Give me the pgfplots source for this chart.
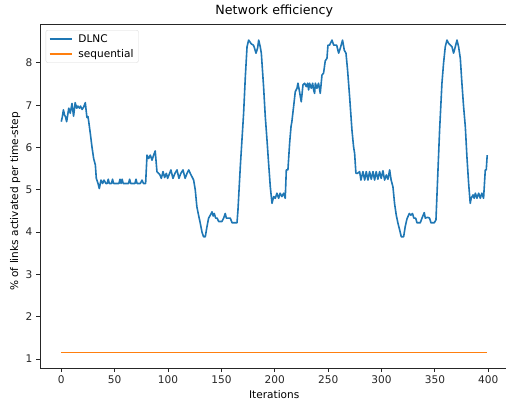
\documentclass[border=0pt]{standalone}
\usepackage{pgfplots}
\pgfplotsset{compat=1.18}
\usepackage{fontspec}
\setmainfont{DejaVu Sans}
\definecolor{mplblue}{HTML}{1F77B4}
\definecolor{mplorange}{HTML}{FF7F0E}
\begin{document}
\begin{tikzpicture}
\useasboundingbox (0,0) rectangle (506bp,403bp);
\begin{axis}[
  at={(40bp,34.7bp)}, anchor=south west,
  scale only axis, width=468.5bp, height=343.8bp,
  xmin=-19.95, xmax=418.95, ymin=0.78, ymax=8.908,
  xtick={0,50,...,400}, ytick={1,2,...,8},
  tick align=outside, tick pos=left,
  major tick length=3.7bp,
  axis line style={line width=0.85bp, black!85},
  every tick/.style={line width=0.85bp, black!85},
  /pgf/number format/assume math mode=true,
  ticklabel style={font=\fontsize{10.6}{12}\selectfont, text=black!85},
  xticklabel style={inner sep=0pt, yshift=-3.7bp},
  yticklabel style={inner sep=0pt, xshift=-3.7bp},
  title={Network efficiency},
  title style={font=\fontsize{12.7}{14}\selectfont, anchor=base, at={(axis description cs:0.5,1)}, yshift=3.8bp, inner sep=0pt},
  xlabel={Iterations},
  xlabel style={font=\fontsize{10.6}{12}\selectfont, anchor=base, at={(axis description cs:0.5,0)}, yshift=-30.3bp, inner sep=0pt},
  ylabel={\% of links activated per time-step},
  ylabel style={font=\fontsize{10.6}{12}\selectfont, anchor=base, at={(axis description cs:0,0.485)}, yshift=22bp, inner sep=0pt},
  legend style={at={(axis description cs:0.012,0.984)}, anchor=north west,
    draw=black!15, rounded corners=2bp, fill=white, fill opacity=0.8, text opacity=1,
    font=\fontsize{10.6}{12}\selectfont, inner xsep=3bp, inner ysep=2bp,
    row sep=1.5bp},
  legend cell align=left,
  legend image code/.code={\draw[#1] (0bp,0bp) -- (22bp,0bp); \path (26bp,0bp);},
]
\addplot[mplblue, line width=1.6bp, line join=round] table {
x y
0 6.61
1 6.73
2 6.89
3 6.77
4 6.72
5 6.61
7 6.93
8.4 6.81
10 7.04
11.5 6.74
13 7.06
14.5 6.93
15.5 6.98
17 6.93
18 6.98
19.5 6.90
21 6.96
22.5 7.06
24 6.71
25 6.73
25.6 6.63
27.2 6.33
28.7 6.02
30.3 5.74
31.9 5.59
32.8 5.27
34.4 5.15
35.6 5.03
37.2 5.23
38.7 5.15
40 5.23
41.7 5.15
43 5.15
44 5.25
45 5.15
47 5.15
48 5.25
49 5.15
54 5.15
55 5.25
56 5.15
57 5.25
58 5.15
63 5.15
64 5.25
65 5.15
69 5.15
70 5.25
71 5.15
74 5.15
75.6 5.23
77 5.15
79 5.15
80.3 5.82
81.8 5.74
83.4 5.82
85 5.70
86.5 5.82
88 5.92
89.6 5.43
91.2 5.39
92.5 5.35
93.7 5.27
95.3 5.43
96.8 5.29
98.4 5.39
99.6 5.27
102.7 5.47
104.6 5.27
106.5 5.39
108.4 5.47
110.2 5.27
112 5.39
114 5.47
116 5.27
117.8 5.39
119.4 5.47
120.8 5.39
122.4 5.31
124 5.23
125.5 5.00
127 4.60
128.6 4.40
130.2 4.21
131.8 4.00
133.3 3.89
134.9 3.89
136.5 4.13
138 4.33
139.6 4.40
141.2 4.48
142.3 4.38
143.3 4.44
144.6 4.33
146 4.33
147.4 4.25
150.5 4.25
152.1 4.33
153.6 4.44
154.6 4.33
158.3 4.33
160 4.22
164.6 4.22
165.5 4.52
167.7 5.55
170.8 6.81
172.4 7.67
174 8.38
175.5 8.54
178 8.45
180 8.42
181 8.35
182.4 8.23
183.9 8.35
184.9 8.54
186.4 8.38
187.4 8.23
189.5 7.44
191.1 6.73
192.7 6.18
194.2 5.63
195.8 5.07
197.4 4.68
199 4.84
200.5 4.80
202 4.92
203.6 4.80
205 4.92
206.7 4.84
208.3 4.92
209.8 4.80
210.8 5.47
212.3 5.47
213.9 6.10
215.2 6.49
216 6.61
217.6 6.96
219.2 7.32
220.8 7.40
221.7 7.52
222.9 7.36
224.8 7.08
226.4 7.48
228 7.52
229.5 7.44
230.8 7.52
231.7 7.36
232.6 7.52
234.2 7.40
235.5 7.52
236.4 7.36
237.3 7.28
238 7.52
239.5 7.40
241 7.52
242.6 7.28
244.2 7.71
245.7 7.76
247.3 8.05
248.9 8.11
249.8 8.42
251.3 8.42
253.6 8.54
255.2 8.42
256.7 8.42
258 8.42
259.8 8.23
261.4 8.35
263.5 8.54
265.1 8.30
266.7 8.23
268.2 7.83
270.1 7.20
272.3 6.41
273.8 6.02
274.8 5.86
276 5.39
277.5 5.39
279.5 5.43
280.7 5.23
282.6 5.43
284.2 5.23
285.7 5.43
287.3 5.23
288.8 5.43
290.4 5.25
292 5.43
293.5 5.23
295 5.43
296.6 5.25
298.2 5.43
299.7 5.27
301.3 5.45
302.9 5.23
304.5 5.35
306 5.25
307.6 5.47
309 5.23
310.7 5.07
312.2 4.68
313.8 4.40
315.4 4.21
317 4.05
318.5 3.89
320.7 3.89
322.2 4.13
323.8 4.31
326 4.44
327.5 4.40
329 4.44
330.3 4.33
332 4.33
333.2 4.22
336.3 4.22
337.9 4.33
340 4.46
341 4.33
343.2 4.35
345 4.33
346.3 4.22
349.4 4.22
351 4.29
352.5 5.23
354.4 6.41
356.6 7.52
358.1 7.99
359.7 8.38
361.3 8.54
362.9 8.46
364.4 8.42
366 8.38
367.5 8.23
369.1 8.38
370.7 8.54
372.2 8.38
373.8 8.11
375.3 7.52
376.9 6.96
378.5 6.49
380 5.78
381.6 5.15
383.1 4.68
384 4.80
385.7 4.88
386.8 4.80
387.9 4.92
389.4 4.80
391 4.92
392.5 4.80
394 4.92
395.6 4.80
397.2 5.47
398.1 5.47
399 5.82
};
\addlegendentry{DLNC}
\addplot[mplorange, line width=1.6bp] table {
x y
0 1.15
399 1.15
};
\addlegendentry{sequential}
\end{axis}
\end{tikzpicture}
\end{document}
